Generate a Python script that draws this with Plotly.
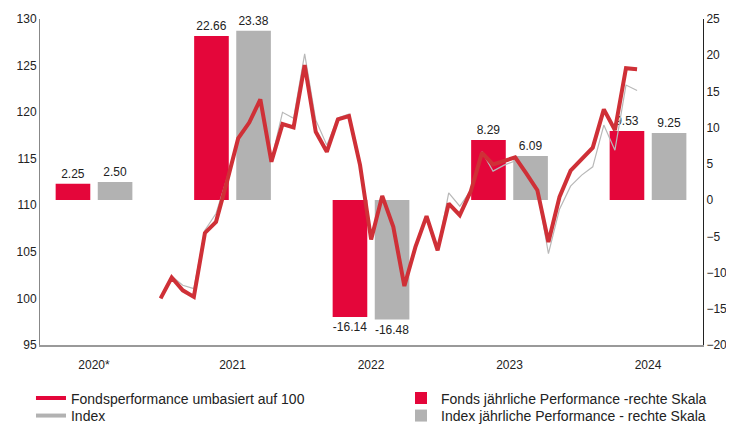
import plotly.graph_objects as go

# ---------------- data ----------------
years = ["2020*", "2021", "2022", "2023", "2024"]
fund_perf = [2.25, 22.66, -16.14, 8.29, 9.53]
index_perf = [2.50, 23.38, -16.48, 6.09, 9.25]

# monthly series, Dec 2020 .. Jul 2024
months = ["2020-12"] + [f"{y}-{m:02d}" for y in (2021, 2022, 2023) for m in range(1, 13)] + \
         [f"2024-{m:02d}" for m in range(1, 8)]

fund_line = [100.00, 102.24, 100.87, 100.17, 107.03, 108.22, 112.59, 117.18, 118.88, 121.38,
             114.67, 118.72, 118.37, 125.06, 117.89, 115.74, 119.23, 119.58, 114.31, 106.32,
             111.01, 107.68, 101.33, 105.53, 108.83, 105.17, 110.19, 108.94, 111.52, 115.63,
             114.39, 114.77, 115.14, 113.42, 111.62, 106.06, 110.90, 113.72, 114.96, 116.19,
             120.30, 118.08, 124.71, 124.60]
index_line = [100.00, 102.38, 101.41, 101.05, 107.32, 109.12, 112.91, 117.22, 119.04, 121.52,
              114.85, 119.98, 119.33, 126.25, 119.15, 116.46, 119.37, 119.80, 114.42, 106.32,
              111.01, 107.68, 101.33, 105.53, 108.83, 105.17, 111.33, 109.90, 111.62, 115.74,
              113.67, 114.31, 114.77, 113.34, 111.62, 104.82, 109.58, 112.05, 113.24, 114.13,
              118.61, 115.92, 122.91, 122.32]

left_ticks = [95, 100, 105, 110, 115, 120, 125, 130]
right_ticks = [-20, -15, -10, -5, 0, 5, 10, 15, 20, 25]

FUND_RED = "#E4063A"
LINE_RED = "#CF3037"
GREY_BAR = "#B2B2B2"
GREY_LINE = "#B8B8B8"
FONT = "Liberation Sans, Arial, sans-serif"

fig = go.Figure()

fig.add_trace(go.Bar(
    x=years, y=fund_perf, width=0.25, offset=-0.277,
    marker=dict(color=FUND_RED, line=dict(width=0)),
    text=[f"{v:.2f}" for v in fund_perf], textposition="outside",
    textfont=dict(size=12, color="#222222", family=FONT),
    cliponaxis=False, constraintext="none",
    name="Fonds jährliche Performance -rechte Skala", legend="legend3",
    xaxis="x", yaxis="y"))
fig.add_trace(go.Bar(
    x=years, y=index_perf, width=0.25, offset=0.027,
    marker=dict(color=GREY_BAR, line=dict(width=0)),
    text=[f"{v:.2f}" for v in index_perf], textposition="outside",
    textfont=dict(size=12, color="#222222", family=FONT),
    cliponaxis=False, constraintext="none",
    name="Index jährliche Performance - rechte Skala", legend="legend4",
    xaxis="x", yaxis="y"))

fig.add_trace(go.Scatter(
    x=months, y=index_line, mode="lines", line=dict(color=GREY_LINE, width=1.2),
    showlegend=False, xaxis="x2", yaxis="y2"))
fig.add_trace(go.Scatter(
    x=months, y=fund_line, mode="lines", line=dict(color=LINE_RED, width=4),
    showlegend=False, xaxis="x2", yaxis="y2"))

# legend-only entries for the lines
fig.add_trace(go.Scatter(
    x=[None], y=[None], mode="lines", line=dict(color=FUND_RED, width=4),
    name="Fondsperformance umbasiert auf 100", legend="legend", xaxis="x2", yaxis="y2"))
fig.add_trace(go.Scatter(
    x=[None], y=[None], mode="lines", line=dict(color=GREY_BAR, width=4),
    name="Index", legend="legend2", xaxis="x2", yaxis="y2"))

legend_style = dict(xanchor="left", yanchor="top", orientation="v",
                    font=dict(size=14, family=FONT, color="#222222"),
                    bgcolor="rgba(0,0,0,0)", borderwidth=0)
ROW1, ROW2 = -0.1149, -0.1686
COL1, COL2 = -0.0136, 0.5445

# page body has an 8px default margin -> figure is 726x417, offset by 8px
fig.update_layout(
    width=726, height=417,
    margin=dict(l=32, r=31, t=11, b=80.4, pad=0, autoexpand=False),
    paper_bgcolor="white", plot_bgcolor="white",
    font=dict(family=FONT, size=12, color="#222222"),
    barmode="overlay",
    xaxis=dict(type="category", categoryorder="array", categoryarray=years,
               range=[-0.39, 4.397], showline=True, linecolor="#999999", linewidth=1.5,
               ticks="", showgrid=False, zeroline=False, tickfont=dict(size=12),
               ticklabelstandoff=8),
    yaxis=dict(side="right", range=[-20, 25], tickvals=right_ticks,
               showline=True, linecolor="#222222", linewidth=1, ticks="",
               showgrid=False, zeroline=False, tickfont=dict(size=12),
               ticklabelstandoff=0),
    xaxis2=dict(type="category", overlaying="x", range=[-10.885, 48.95],
                visible=False, showgrid=False, zeroline=False),
    yaxis2=dict(overlaying="y", side="left", anchor="x2", range=[95, 130],
                tickvals=left_ticks, showline=True, linecolor="#888888", linewidth=1,
                ticks="", showgrid=False, zeroline=False, tickfont=dict(size=12)),
    legend=dict(x=COL1, y=ROW1, **legend_style),
    legend2=dict(x=COL1, y=ROW2, **legend_style),
    legend3=dict(x=COL2, y=ROW1, **legend_style),
    legend4=dict(x=COL2, y=ROW2, **legend_style),
)

fig.write_html("out.html")
